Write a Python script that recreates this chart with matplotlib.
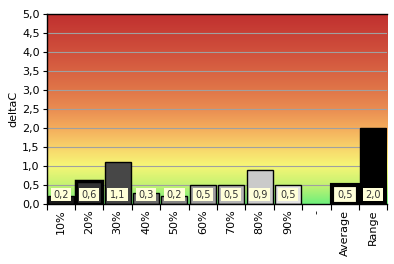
import matplotlib.pyplot as plt
import numpy as np
from matplotlib.colors import LinearSegmentedColormap
from matplotlib.patches import Rectangle

categories = ['10%', '20%', '30%', '40%', '50%', '60%', '70%', '80%', '90%', '-', 'Average', 'Range']
values = [0.2, 0.6, 1.1, 0.3, 0.2, 0.5, 0.5, 0.9, 0.5, None, 0.5, 2.0]
labels = ['0,2', '0,6', '1,1', '0,3', '0,2', '0,5', '0,5', '0,9', '0,5', None, '0,5', '2,0']
bar_colors = ['#1a1a1a', '#333333', '#474747', '#6a6a6a', '#858585', '#9e9e9e',
              '#b4b4b4', '#cacaca', '#e2e2e2', 'none', '#ffffd8', '#000000']
edge_widths = [1, 2.5, 1, 1, 1, 1, 1, 1, 1, 0, 3, 1]

fig = plt.figure(figsize=(3.94, 2.64), dpi=100)
ax = fig.add_axes([0.1185, 0.227, 0.8645, 0.721])

# background gradient, bottom (green) to top (red)
cmap = LinearSegmentedColormap.from_list('bg', [
    (0.0, '#6ff07c'), (0.1, '#c6f272'), (0.2, '#f6f676'), (0.3, '#f8d26a'),
    (0.4, '#f4ac5c'), (0.5, '#e98c52'), (0.6, '#e07548'), (0.8, '#d0503c'),
    (1.0, '#c02f2f')])
grad = np.linspace(0, 1, 256).reshape(-1, 1)
x = np.arange(len(categories))
ax.imshow(grad, cmap=cmap, aspect='auto', origin='lower',
          extent=[-0.5, len(categories) - 0.5, 0, 5], zorder=0)

for yv in np.arange(0.5, 5.0, 0.5):
    ax.axhline(yv, color='#a0a0a0', lw=0.8, zorder=1)

for i, v in enumerate(values):
    if v is None:
        continue
    ax.bar(x[i], v, width=0.92, color=bar_colors[i], edgecolor='black',
           linewidth=edge_widths[i], zorder=2)
    ax.add_patch(Rectangle((x[i] - 0.36, 0.08), 0.72, 0.34, facecolor='#ffffd8',
                           edgecolor='none', zorder=3))
    ax.text(x[i], 0.25, labels[i], ha='center', va='center', fontsize=7,
            color='#333333', zorder=4)

ax.set_xlim(-0.5, len(categories) - 0.5)
ax.set_ylim(0, 5)
ax.set_yticks(np.arange(0, 5.01, 0.5))
ax.set_yticklabels([f'{t:.1f}'.replace('.', ',') for t in np.arange(0, 5.01, 0.5)], fontsize=8)
ax.set_xticks(np.arange(-0.5, len(categories), 1), minor=False)
ax.set_xticklabels([])
ax.set_xticks(x, minor=True)
ax.set_xticklabels(categories, minor=True, rotation=90, fontsize=8)
ax.tick_params(axis='x', which='minor', length=0, pad=4)
ax.tick_params(axis='x', which='major', length=4, direction='out')
ax.tick_params(axis='y', length=3, pad=2)
ax.set_ylabel('deltaC', fontsize=8, labelpad=3)
ax.spines['right'].set_visible(False)
for s in ax.spines.values():
    s.set_linewidth(1)

plt.savefig('out.png', dpi=100)
